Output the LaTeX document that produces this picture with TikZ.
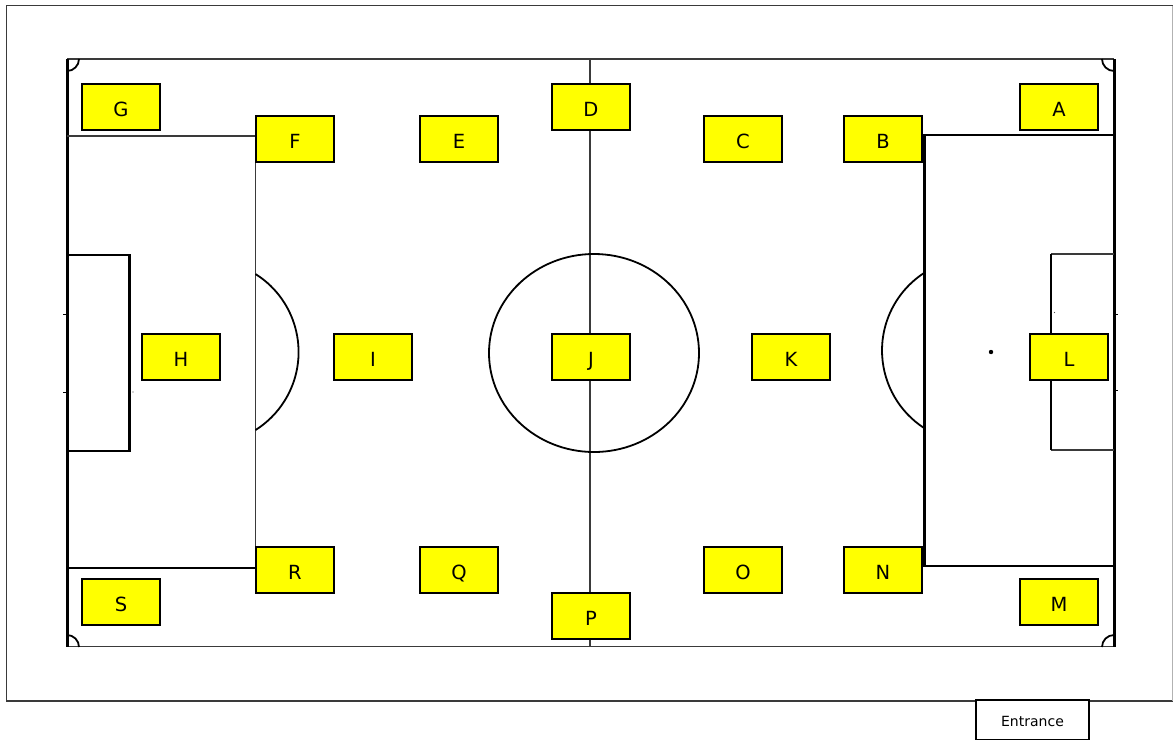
\documentclass[tikz,border=0pt]{standalone}
\usepackage{fontspec}
\setmainfont{DejaVu Sans}
\definecolor{thinline}{RGB}{58,58,58}
\definecolor{spotyellow}{RGB}{255,255,0}
\tikzset{
  spot/.style={draw=black,line width=1.6pt,fill=spotyellow,minimum width=78pt,minimum height=46pt,inner sep=0pt,text height=18pt,text depth=0pt,font=\fontsize{19.5}{22}\selectfont,text=black},
  heavy/.style={draw=black,line width=2.6pt},
  edge/.style={draw=black,line width=3pt},
  light/.style={draw=thinline,line width=1.2pt},
  curved/.style={draw=black,line width=1.8pt},
  tick/.style={draw=black,line width=.8pt},
}
\begin{document}
\begin{tikzpicture}[x=1pt,y=-1pt]
\useasboundingbox (0,0) rectangle (1173,740);
\fill[white] (0,0) rectangle (1173,740);
% hall
\draw[light] (1172.5,5.5) -- (6.5,5.5) -- (6.5,701) -- (1172.5,701);
\draw[draw=black!30,line width=.8pt] (1172.5,5.5) -- (1172.5,701);
% pitch outline
\draw[light] (67,59) -- (1114,59);
\draw[light] (67,646.5) -- (1114,646.5);
\draw[edge] (67,59) -- (67,647);
\draw[edge] (1114,59) -- (1114,647);
\draw[light] (590,59) -- (590,647);
% left box
\draw[light] (67,136) -- (255.5,136) -- (255.5,568);
\draw[heavy] (67,568) -- (256,568);
\draw[heavy] (67,255) -- (129.5,255) -- (129.5,451) -- (67,451);
\draw[curved] (255.5,274) arc[start angle=-57.8,end angle=57.8,radius=92.2];
% right box
\draw[heavy] (1114,135) -- (924.5,135) -- (924.5,566) -- (1114,566);
\draw[light] (1114,254) -- (1051,254);
\draw[light] (1114,450) -- (1051,450);
\draw[heavy] (1051,254) -- (1051,450);
\draw[curved] (924,273) arc[start angle=236.9,end angle=123.1,radius=92.5];
% centre
\draw[curved] (594,353) ellipse[x radius=105,y radius=99];
\fill[black] (991,352) circle[radius=2.2];
% corners
\draw[curved] (79,59) arc[start angle=0,end angle=90,radius=12];
\draw[curved] (1102,59) arc[start angle=180,end angle=90,radius=12];
\draw[curved] (79,647) arc[start angle=0,end angle=-90,radius=12];
\draw[curved] (1102,647) arc[start angle=180,end angle=270,radius=12];
% ticks
\draw[tick] (63,314) -- (67,314);
\draw[tick] (63,392) -- (67,392);
\draw[tick] (1114,314) -- (1118,314);
\draw[tick] (1114,390) -- (1118,390);
\fill[black!70] (133,392) circle[radius=.6];
\fill[black!70] (1054.5,312.5) circle[radius=.6];
% spots
\node[spot] (G) at (121,107) {G};
\node[spot] (F) at (295,139) {F};
\node[spot] (E) at (459,139) {E};
\node[spot] (D) at (591,107) {D};
\node[spot] (C) at (743,139) {C};
\node[spot] (B) at (883,139) {B};
\node[spot] (A) at (1059,107) {A};
\node[spot] (H) at (181,357) {H};
\node[spot] (I) at (373,357) {I};
\node[spot] (J) at (591,357) {J};
\node[spot] (K) at (791,357) {K};
\node[spot] (L) at (1069,357) {L};
\node[spot] (R) at (295,570) {R};
\node[spot] (Q) at (459,570) {Q};
\node[spot] (P) at (591,616) {P};
\node[spot] (O) at (743,570) {O};
\node[spot] (N) at (883,570) {N};
\node[spot] (M) at (1059,602) {M};
\node[spot] (S) at (121,602) {S};
\node[draw=black,line width=1.8pt,fill=white,minimum width=113pt,minimum height=39.5pt,inner sep=0pt,text height=14pt,text depth=0pt,font=\fontsize{14}{16}\selectfont] (entrance) at (1032.5,719.75) {Entrance};
\end{tikzpicture}
\end{document}
